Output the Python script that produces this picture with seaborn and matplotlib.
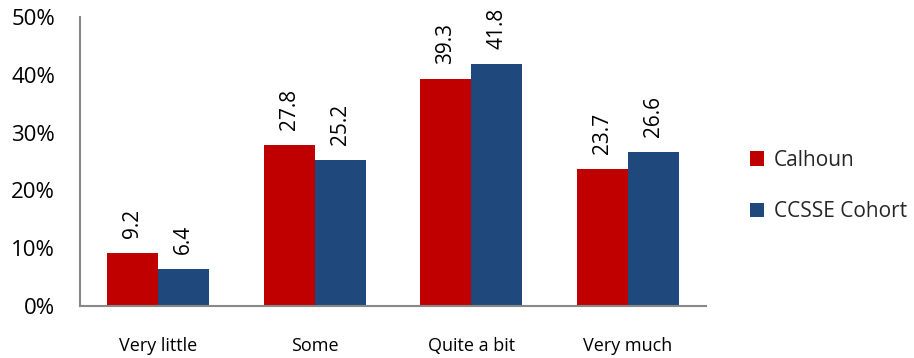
import matplotlib
matplotlib.use("Agg")
import matplotlib.pyplot as plt
import seaborn as sns
import pandas as pd
from matplotlib.ticker import PercentFormatter

categories = ["Very little", "Some", "Quite a bit", "Very much"]
calhoun = [9.2, 27.8, 39.3, 23.7]
cohort = [6.4, 25.2, 41.8, 26.6]
series_names = ["Calhoun", "CCSSE Cohort"]
colors = ["#C00000", "#1F497D"]

df = pd.DataFrame({
    "category": categories * 2,
    "value": calhoun + cohort,
    "series": [series_names[0]] * 4 + [series_names[1]] * 4,
})

sns.set_theme(style="white")
plt.rcParams["font.family"] = ["Open Sans", "DejaVu Sans"]

fig = plt.figure(figsize=(9.14, 3.58), dpi=100)
ax = fig.add_axes([0.0875, 0.1453, 0.685, 0.8072])

sns.barplot(data=df, x="category", y="value", hue="series", palette=colors,
            width=0.65, saturation=1, ax=ax, order=categories, hue_order=series_names,
            linewidth=0, edgecolor="none")

for cont in ax.containers:
    ax.bar_label(cont, labels=[f"{v:.1f}" for v in cont.datavalues],
                 rotation=90, padding=11, fontsize=15, color="black")

ax.set_ylim(0, 50)
ax.set_yticks([0, 10, 20, 30, 40, 50])
ax.yaxis.set_major_formatter(PercentFormatter(decimals=0))
ax.set_xlim(-0.5, 3.5)
ax.set_xlabel("")
ax.set_ylabel("")
ax.tick_params(axis="y", labelsize=16, length=0, pad=18, colors="black")
ax.tick_params(axis="x", labelsize=13, length=0, pad=22, colors="black")
for s in ["top", "right"]:
    ax.spines[s].set_visible(False)
for s in ["left", "bottom"]:
    ax.spines[s].set_color("#888888")
    ax.spines[s].set_linewidth(1.5)

leg = ax.legend(loc="center left", bbox_to_anchor=(1.04, 0.415), frameon=False,
                fontsize=15, handlelength=0.7, handleheight=0.7,
                handletextpad=0.45, labelspacing=1.45)

fig.savefig("out.png", dpi=100)
